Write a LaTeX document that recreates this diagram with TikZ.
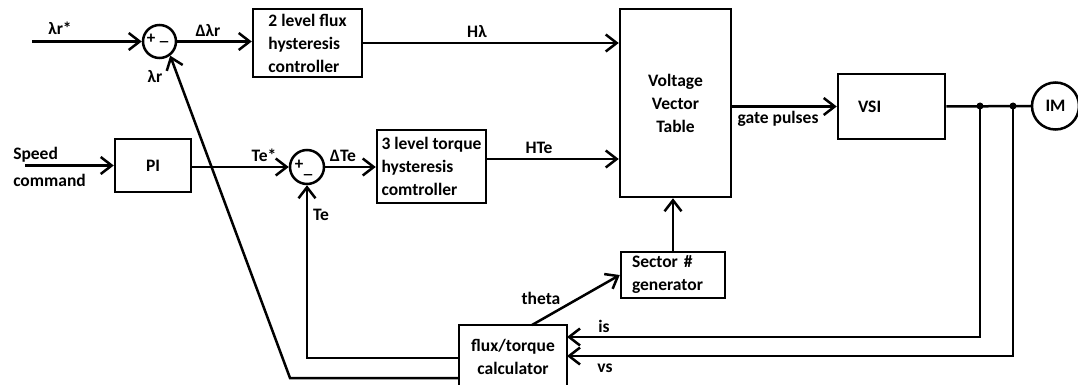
\documentclass[tikz,border=0pt]{standalone}
\usepackage{fontspec}
\setmainfont{Carlito}
\usetikzlibrary{arrows.meta}
\begin{document}
\begin{tikzpicture}[x=1pt,y=-1pt,
  font=\bfseries\fontsize{17.5}{23}\selectfont,
  line width=2.5pt,
  blk/.style={draw, rectangle, inner sep=0pt},
  sumc/.style={draw, circle, minimum size=33pt, inner sep=0pt},
  arr/.style={-{Straight Barb[length=11pt,width=17pt]}},
  lbl/.style={inner sep=0pt},
  sgn/.style={inner sep=0pt, font=\bfseries\fontsize{17}{18}\selectfont},
  jdot/.style={circle, fill, inner sep=0pt, minimum size=7pt}]
\useasboundingbox (0,0) rectangle (1078,385);
\clip (0,0) rectangle (1078,385);

% blocks
\node[sumc] (s1) at (159.5,41.5) {};
\node[sumc, minimum size=34pt] (s2) at (307,167) {};
\node[blk, minimum width=109pt, minimum height=68pt, align=left] (flux) at (307.5,43) {2 level flux\\hysteresis\\controller};
\node[blk, minimum width=76pt, minimum height=53pt] (pi) at (153,165.5) {PI};
\node[blk, minimum width=109pt, minimum height=73pt, align=left] (tq) at (431.5,166.5) {3 level torque\\hysteresis\\comtroller};
\node[blk, minimum width=111pt, minimum height=188pt, align=center] (vvt) at (675.5,103) {Voltage\\Vector\\Table};
\node[blk, minimum width=107pt, minimum height=65pt, text width=67pt, align=left] (vsi) at (891.5,106.5) {VSI};
\node[blk, minimum width=104pt, minimum height=46pt, text width=82pt, align=left] (sec) at (673,275) {Sector \#\\generator};
\node[blk, minimum width=108pt, minimum height=63pt, align=center] (fc) at (513,356.5) {flux/torque\\calculator};
\node[draw, circle, minimum size=47pt, inner sep=0pt] (im) at (1055.5,106) {IM};
\node[jdot] (d1) at (980,106) {};
\node[jdot] (d2) at (1013,106) {};

% signs
\node[sgn] (p1) at (151,39) {+};
\node[sgn] (m1) at (164,42) {\_};
\node[sgn] (p2) at (299,165) {+};
\node[sgn] (m2) at (308,175) {\_};

% free ends
\coordinate (lin) at (32,41.5);
\coordinate (spd) at (25,165.5);
\coordinate (hte) at (486,159);
\coordinate (th) at (532,325);
\coordinate (isin) at (567,337);
\coordinate (vsin) at (567,356);
\coordinate (tef) at (459,358);
\coordinate (lrf) at (459,378);
\coordinate (lrb) at (290,378);

% connectors
\draw[arr] (lin) -- (s1.west);
\draw[arr] (s1.east) -- (s1.east -| flux.west);
\draw[arr] (flux.east) -- (flux.east -| vvt.west);
\draw[arr] (spd) -- (pi.west);
\draw[arr] (pi.east |- s2.west) -- (s2.west);
\draw[arr] (s2.east) -- (s2.east -| tq.west);
\draw[arr] (hte) -- (hte -| vvt.west);
\draw[arr] (vvt.east |- vsi.west) -- (vsi.west);
\draw (vsi.east) -- (im.west);
\draw[arr] (d1.center) |- (isin);
\draw[arr] (d2.center) |- (vsin);
\draw[arr] (sec.north) -- (sec.north |- vvt.south);
\draw[arr] (th) -- (sec.west);
\draw[arr] (tef) -| (s2.south);
\draw[arr] (lrf) -- (lrb) -- (s1.-53);

% labels
\node[lbl] (l1) at (60,28) {λr*};
\node[lbl] (l2) at (208,31) {Δλr};
\node[lbl] (l3) at (155,77) {λr};
\node[lbl] (l4) at (477,32) {Hλ};
\node[lbl, anchor=west] (l5) at (12,155) {Speed};
\node[lbl, anchor=west] (l6) at (12,180) {command};
\node[lbl] (l7) at (264,155) {Te*};
\node[lbl] (l8) at (343,156) {ΔTe};
\node[lbl] (l9) at (321,215) {Te};
\node[lbl] (l10) at (539,148) {HTe};
\node[lbl] (l11) at (778,119) {gate pulses};
\node[lbl] (l12) at (541,298) {theta};
\node[lbl] (l13) at (604,326) {is};
\node[lbl] (l14) at (605,368) {vs};
\end{tikzpicture}
\end{document}
